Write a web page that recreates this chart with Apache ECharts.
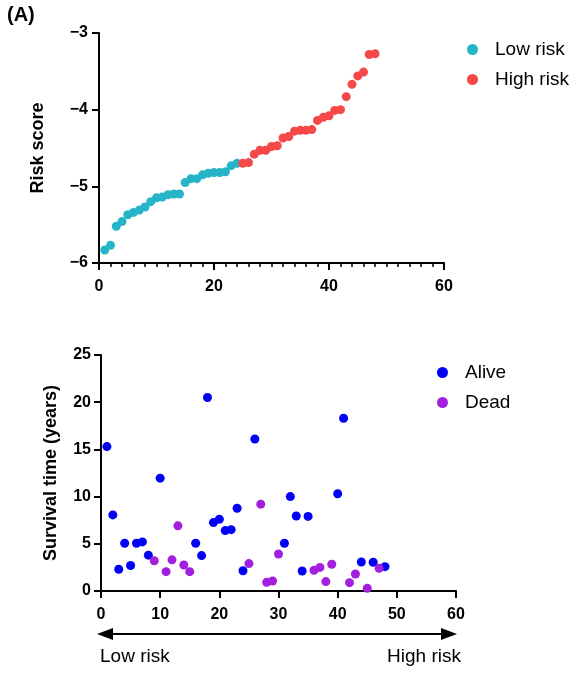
<!DOCTYPE html>
<html>
<head>
<meta charset="utf-8">
<script src="https://cdn.jsdelivr.net/npm/echarts@6/dist/echarts.min.js"></script>
<style>
  html, body { margin: 0; padding: 0; background: #fff; }
  #chart { width: 570px; height: 673px; }
</style>
</head>
<body>
<div id="chart"></div>
<script>
// risk score, sorted; patients 1-24 low risk, 25-48 high risk
const lowRiskScore = [-5.83, -5.77, -5.52, -5.46, -5.37, -5.34, -5.31, -5.27, -5.20, -5.15, -5.14, -5.11,
  -5.10, -5.10, -4.95, -4.90, -4.90, -4.85, -4.83, -4.82, -4.82, -4.81, -4.73, -4.70];
const highRiskScore = [-4.70, -4.69, -4.58, -4.53, -4.53, -4.48, -4.47, -4.37, -4.35, -4.28, -4.27, -4.27,
  -4.26, -4.14, -4.10, -4.08, -4.01, -4.00, -3.83, -3.67, -3.56, -3.51, -3.28, -3.27];

// survival status by patient rank
const aliveRank = [1, 2, 3, 4, 5, 6, 7, 8, 10, 16, 17, 18, 19, 20, 21, 22, 23, 24, 26, 31, 32, 33, 34, 35, 40, 41, 44, 46, 48];
const aliveYears = [15.3, 8.06, 2.3, 5.06, 2.7, 5.06, 5.2, 3.8, 11.95, 5.06, 3.75, 20.5, 7.25, 7.6, 6.4, 6.5, 8.77, 2.15,
  16.1, 5.06, 10.0, 7.95, 2.12, 7.9, 10.3, 18.3, 3.07, 3.04, 2.58];
const deadRank = [9, 11, 12, 13, 14, 15, 25, 27, 28, 29, 30, 36, 37, 38, 39, 42, 43, 45, 47];
const deadYears = [3.2, 2.05, 3.3, 6.9, 2.75, 2.05, 2.9, 9.2, 0.92, 1.06, 3.92, 2.2, 2.5, 1.0, 2.83, 0.88, 1.8, 0.28, 2.4];

const FONT = "'Liberation Sans', Arial, Helvetica, sans-serif";
const colors = {
  low: "#26b5c8",
  high: "#f54848",
  alive: "#0000f5",
  dead: "#a21fe0"
};

var myChart = echarts.init(document.getElementById("chart"));

var axisLine = { show: true, lineStyle: { color: "#000", width: 2 } };
var tickLabel = { color: "#000", fontSize: 16, fontWeight: "bold", fontFamily: FONT };
var minus = function(v) { return String(v).replace("-", "\u2212"); };
var legendText = { fontSize: 19, fontFamily: FONT, color: "#000", padding: [0, 0, 0, 12] };

var option = {
  animation: false,
  backgroundColor: "#fff",
  graphic: [
    { type: "text", left: 7, top: 5, style: { text: "(A)", fontSize: 20, fontWeight: "bold", fontFamily: FONT, fill: "#000" } },
    // risk arrow under bottom panel
    { type: "line", shape: { x1: 110, y1: 634, x2: 444, y2: 634 }, style: { stroke: "#000", lineWidth: 2 } },
    { type: "polygon", shape: { points: [[97, 634], [113, 628], [113, 640]] }, style: { fill: "#000" } },
    { type: "polygon", shape: { points: [[457, 634], [441, 628], [441, 640]] }, style: { fill: "#000" } },
    { type: "text", left: 100, top: 647, style: { text: "Low risk", fontSize: 19, fontFamily: FONT, fill: "#000" } },
    { type: "text", right: 109, top: 647, style: { text: "High risk", fontSize: 19, fontFamily: FONT, fill: "#000", align: "right" } }
  ],
  legend: [
    {
      orient: "vertical",
      left: 462,
      top: 35,
      icon: "circle",
      itemWidth: 11,
      itemHeight: 11,
      itemGap: 11,
      textStyle: legendText,
      data: ["Low risk", "High risk"]
    },
    {
      orient: "vertical",
      left: 432,
      top: 358,
      icon: "circle",
      itemWidth: 11,
      itemHeight: 11,
      itemGap: 11,
      textStyle: legendText,
      data: ["Alive", "Dead"]
    }
  ],
  grid: [
    { left: 99, top: 33, width: 345, height: 230 },
    { left: 101, top: 355, width: 355, height: 236 }
  ],
  xAxis: [
    {
      gridIndex: 0,
      type: "value",
      min: 0,
      max: 60,
      interval: 20,
      axisLine: axisLine,
      axisTick: { show: true, length: 7, lineStyle: { color: "#000", width: 2 } },
      minorTick: { show: true, splitNumber: 10, length: 4, lineStyle: { color: "#000", width: 1.5 } },
      splitLine: { show: false },
      axisLabel: Object.assign({ margin: 16 }, tickLabel)
    },
    {
      gridIndex: 1,
      type: "value",
      min: 0,
      max: 60,
      interval: 10,
      axisLine: axisLine,
      axisTick: { show: true, length: 7, lineStyle: { color: "#000", width: 2 } },
      splitLine: { show: false },
      axisLabel: Object.assign({ margin: 16 }, tickLabel)
    }
  ],
  yAxis: [
    {
      gridIndex: 0,
      type: "value",
      min: -6,
      max: -3,
      interval: 1,
      name: "Risk score",
      nameLocation: "middle",
      nameGap: 52,
      nameTextStyle: { fontSize: 18, fontWeight: "bold", fontFamily: FONT, color: "#000" },
      axisLine: axisLine,
      axisTick: { show: true, length: 7, lineStyle: { color: "#000", width: 2 } },
      splitLine: { show: false },
      axisLabel: Object.assign({ margin: 11, formatter: minus }, tickLabel)
    },
    {
      gridIndex: 1,
      type: "value",
      min: 0,
      max: 25,
      interval: 5,
      name: "Survival time (years)",
      nameLocation: "middle",
      nameGap: 41,
      nameTextStyle: { fontSize: 18, fontWeight: "bold", fontFamily: FONT, color: "#000" },
      axisLine: axisLine,
      axisTick: { show: true, length: 7, lineStyle: { color: "#000", width: 2 } },
      splitLine: { show: false },
      axisLabel: Object.assign({ margin: 10 }, tickLabel)
    }
  ],
  series: [
    {
      name: "Low risk",
      type: "scatter",
      xAxisIndex: 0,
      yAxisIndex: 0,
      symbolSize: 9,
      itemStyle: { color: colors.low, opacity: 1 },
      data: lowRiskScore.map(function(v, i) { return [i + 1, v]; })
    },
    {
      name: "High risk",
      type: "scatter",
      xAxisIndex: 0,
      yAxisIndex: 0,
      symbolSize: 9,
      itemStyle: { color: colors.high, opacity: 1 },
      data: highRiskScore.map(function(v, i) { return [i + 1 + lowRiskScore.length, v]; })
    },
    {
      name: "Alive",
      type: "scatter",
      xAxisIndex: 1,
      yAxisIndex: 1,
      symbolSize: 9,
      itemStyle: { color: colors.alive, opacity: 1 },
      data: aliveRank.map(function(r, i) { return [r, aliveYears[i]]; })
    },
    {
      name: "Dead",
      type: "scatter",
      xAxisIndex: 1,
      yAxisIndex: 1,
      symbolSize: 9,
      itemStyle: { color: colors.dead, opacity: 1 },
      data: deadRank.map(function(r, i) { return [r, deadYears[i]]; })
    }
  ]
};
myChart.setOption(option);
</script>
</body>
</html>
